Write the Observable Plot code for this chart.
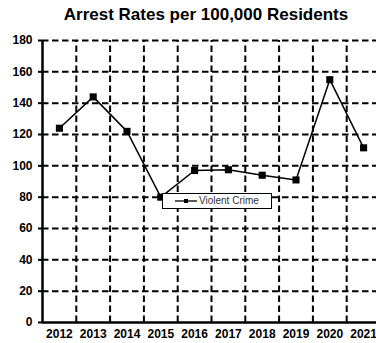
<!DOCTYPE html>
<html>
<head>
<meta charset="utf-8">
<script src="https://cdn.jsdelivr.net/npm/d3@7"></script>
<script src="https://cdn.jsdelivr.net/npm/@observablehq/plot@0.6"></script>
<style>
  body { margin: 0; background: #fff; }
  #wrap { position: relative; width: 376px; height: 343px; overflow: hidden; font-family: "Liberation Sans", Arial, sans-serif; }
  #title { position: absolute; left: 0; top: 5px; width: 412px; text-align: center; font-weight: bold; font-size: 17px; color: #000; }
  #legend { position: absolute; left: 162px; top: 193px; width: 108px; height: 14px; border: 1px solid #000; background: #fff; font-size: 10px; color: #333; }
  #legend svg { position: absolute; left: 12px; top: 4px; }
  #legend span { position: absolute; left: 36px; top: 1px; }
  #chart svg { overflow: hidden; }
</style>
</head>
<body>
<div id="wrap">
  <div id="chart"></div>
  <div id="title">Arrest Rates per 100,000 Residents</div>
  <div id="legend"><svg width="22" height="6"><line x1="0" y1="3" x2="22" y2="3" stroke="#000" stroke-width="1.3"/><rect x="9" y="1" width="4" height="4" fill="#000"/></svg><span>Violent Crime</span></div>
</div>
<script>
const years = [2012, 2013, 2014, 2015, 2016, 2017, 2018, 2019, 2020, 2021];
const violentCrime = [124, 144, 122, 80, 97, 97.5, 94, 91, 155, 111.5];
const yTicks = [0, 20, 40, 60, 80, 100, 120, 140, 160, 180];
const seriesName = "Violent Crime";

const data = years.map((y, i) => ({year: y, value: violentCrime[i], series: seriesName}));
const boundaries = years.map(y => y + 0.5);

const plot = Plot.plot({
  width: 376,
  height: 343,
  marginTop: 40,
  marginBottom: 21,
  marginLeft: 42,
  marginRight: 0,
  style: {fontFamily: "'Liberation Sans', Arial, sans-serif", fontSize: "12px", fontWeight: "bold", color: "#000", background: "#fff"},
  x: {domain: [years[0] - 0.5, years[years.length - 1] + 0.5], range: [42, 380], label: null},
  y: {domain: [0, 180], range: [322, 40], label: null},
  marks: [
    Plot.ruleY(yTicks.filter(d => d > 0), {stroke: "#000", strokeWidth: 2, strokeDasharray: "6.5,3.5", strokeOpacity: 1}),
    Plot.ruleX(boundaries, {y1: 0, y2: 180, stroke: "#000", strokeWidth: 2, strokeDasharray: "6.5,3.5", strokeOpacity: 1}),
    Plot.axisY({ticks: yTicks, tickSize: 4, tickPadding: 6, tickFormat: d => d, label: null, stroke: "#000", strokeWidth: 2, fontWeight: "bold", fontSize: 12}),
    Plot.axisX({ticks: years, tickSize: 0, tickPadding: 7, tickFormat: d => String(d), label: null, fontWeight: "bold", fontSize: 12}),
    Plot.ruleX([years[0] - 0.5], {y1: 0, y2: 180, stroke: "#000", strokeWidth: 2.5}),
    Plot.ruleY([0], {stroke: "#000", strokeWidth: 2.5}),
    Plot.line(data, {x: "year", y: "value", stroke: "#000", strokeWidth: 1.5}),
    Plot.dot(data, {x: "year", y: "value", symbol: "square", r: 4, fill: "#000", stroke: "none"})
  ]
});
document.getElementById("chart").appendChild(plot);
</script>
</body>
</html>
